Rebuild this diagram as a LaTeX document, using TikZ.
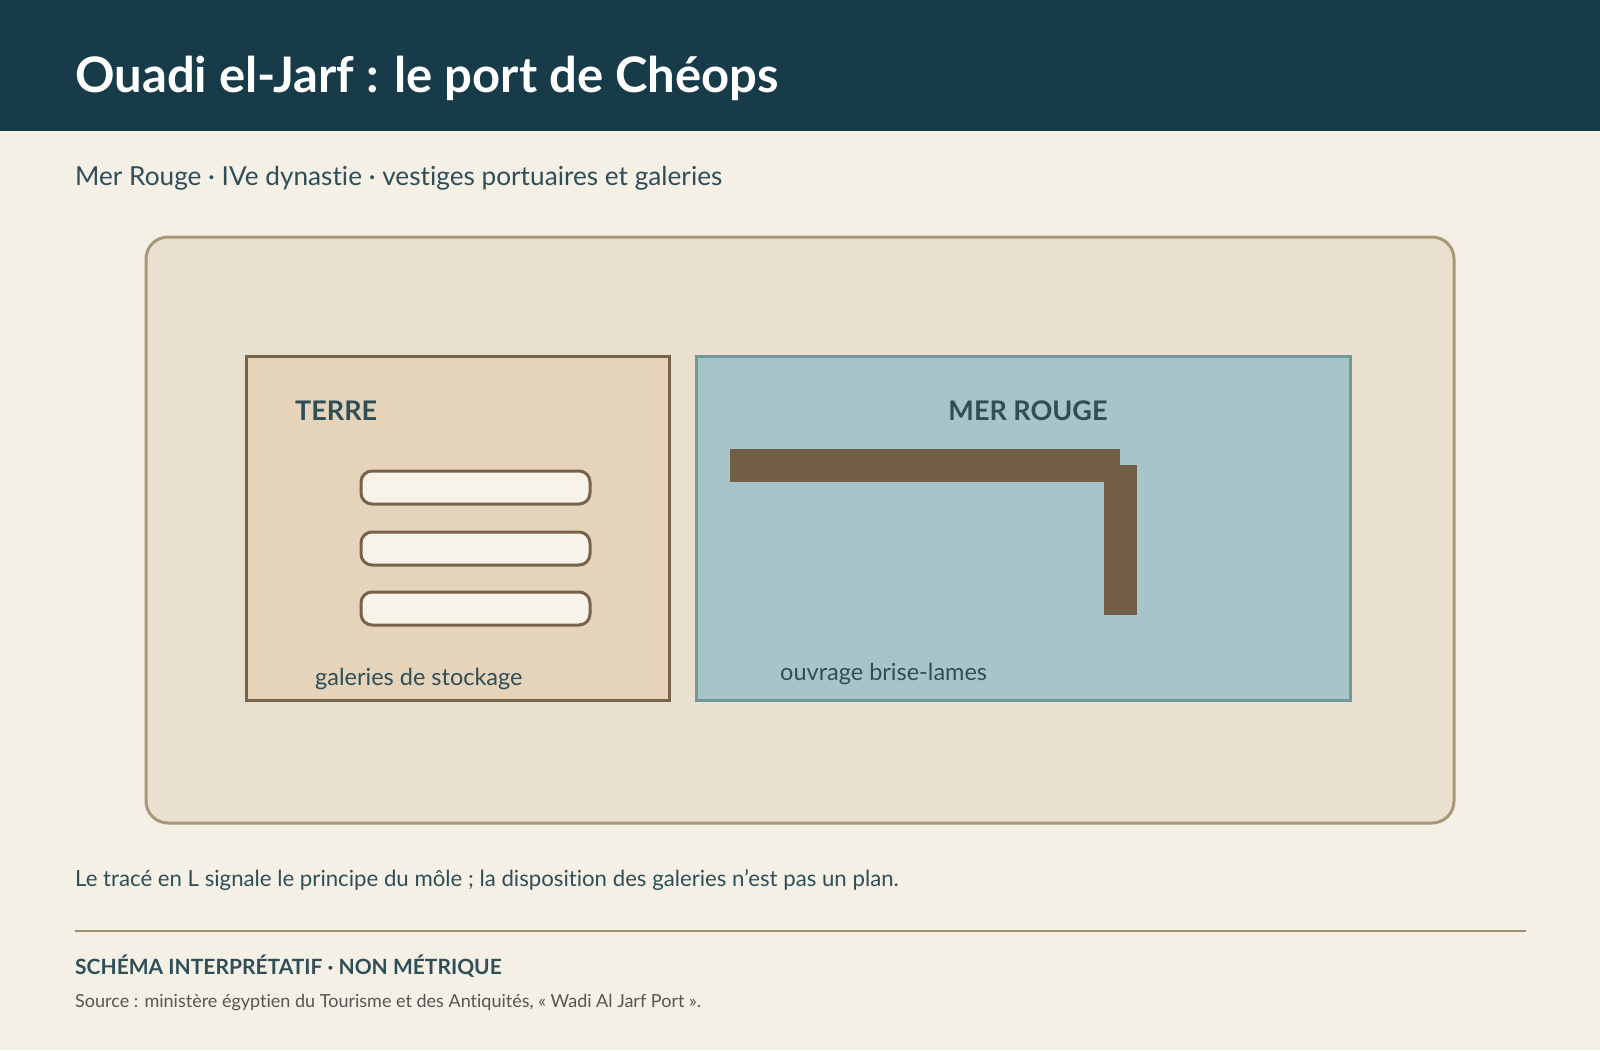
\documentclass[tikz,border=0pt]{standalone}
\usepackage{fontspec}
\setmainfont{Lato}[Ligatures={NoCommon}]
\usetikzlibrary{calc}

\definecolor{paper}{HTML}{F5F0E6}
\definecolor{header}{HTML}{183B49}
\definecolor{ink}{HTML}{2E4E58}
\definecolor{sandfill}{HTML}{E9E0CF}
\definecolor{sandline}{HTML}{A99878}
\definecolor{earthfill}{HTML}{E5D4BA}
\definecolor{earth}{HTML}{76634A}
\definecolor{cream}{HTML}{F8F3E9}
\definecolor{seafill}{HTML}{A7C4C8}
\definecolor{sealine}{HTML}{72979D}
\definecolor{mole}{HTML}{735F45}
\definecolor{rule}{HTML}{A08C6E}
\definecolor{grey}{HTML}{555555}

\begin{document}
\begin{tikzpicture}[x=1pt,y=-1pt,
	txt/.style={anchor=base west,inner sep=0pt,text=ink},
	gallery/.style={draw=earth,fill=cream,line width=3pt,rounded corners=11pt}]
	%page
	\useasboundingbox (0,0) rectangle (1600,1050);
	\fill[paper] (0,0) rectangle (1600,1050);		%background
	\fill[header] (0,0) rectangle (1600,131);		%title band
	\node[txt,text=white] (title) at (75,92) {{\fontsize{49}{52}\selectfont\bfseries Ouadi el-Jarf : le port de Chéops}};
	\node[txt] (subtitle) at (75,185) {{\fontsize{26.2}{30}\selectfont Mer Rouge · IVe dynastie · vestiges portuaires et galeries}};
	
	%frame
	\draw[sandline,fill=sandfill,line width=3pt,rounded corners=22pt] (146,237) rectangle (1454,823);
	\draw[earth,fill=earthfill,line width=3pt] (246,356) rectangle (669,700);	%land
	\draw[sealine,fill=seafill,line width=3pt] (696,356) rectangle (1350,700);	%sea
	
	%galleries
	\foreach \y in {471,532,592}
		\draw[gallery] (361,\y) rectangle (590,\y+33);
	
	%mole (L)
	\fill[mole] (730,449) rectangle (1120,482);		%arm
	\fill[mole] (1104,465) rectangle (1137,615);	%return
	
	%labels
	\node[txt] (land) at (295,420) {{\fontsize{27}{30}\selectfont\bfseries TERRE}};
	\node[txt,anchor=base] (sea) at (1028,420) {{\fontsize{27}{30}\selectfont\bfseries MER ROUGE}};
	\node[txt] (store) at (315,685) {{\fontsize{23.5}{26}\selectfont galeries de stockage}};
	\node[txt] (brk) at (780,680) {{\fontsize{23.5}{26}\selectfont ouvrage brise-lames}};
	
	%notes
	\node[txt] (note) at (75,886) {{\fontsize{22.2}{26}\selectfont Le tracé en L signale le principe du môle ; la disposition des galeries n’est pas un plan.}};
	\draw[rule,line width=2pt] (75,931)--(1526,931);	%separator
	\node[txt] (scheme) at (75,974) {{\fontsize{21}{24}\selectfont\bfseries SCHÉMA INTERPRÉTATIF · NON MÉTRIQUE}};
	\node[txt,text=grey] (source) at (75,1007) {{\fontsize{18}{22}\selectfont Source : ministère égyptien du Tourisme et des Antiquités, « Wadi Al Jarf Port ».}};
\end{tikzpicture}
\end{document}
